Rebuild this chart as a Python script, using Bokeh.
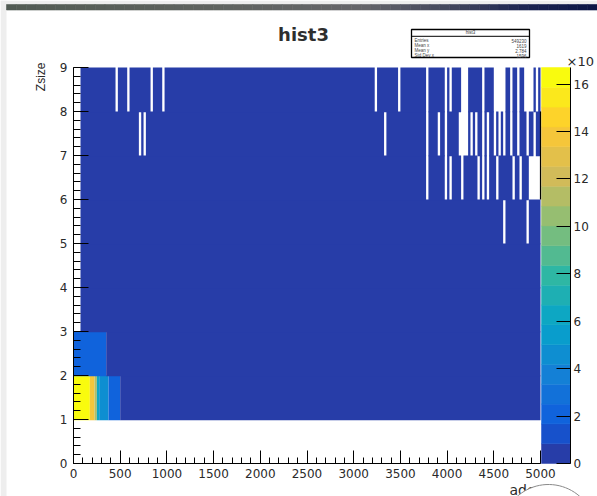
import math
import numpy as np
from bokeh.plotting import figure
from bokeh.models import (Range1d, LinearAxis, SingleIntervalTicker, FixedTicker,
                          ColumnDataSource)
from bokeh.core.properties import value
from bokeh.embed import file_html
from bokeh.resources import INLINE

# ---------------- histogram "hist3": adc vs Zsize ----------------
ADC_LO, ADC_HI, ADC_BIN = 0, 5000, 25
ZSIZE_LO, ZSIZE_HI = 0, 9

# counts of the first adc bins (0, 25, 50, ...) in the Zsize = 1 row
zsize1_head = [16700, 16600, 16650, 16600, 16500, 16400, 16100, 14100, 13900, 11000,
               6300, 4700, 4600, 4500, 4400, 2300, 2200, 2150, 2100, 2000]
# counts of the first adc bins in the Zsize = 2 row
zsize2_head = [2450, 2400, 2400, 2350, 2350, 2300, 2300, 2250, 2200, 2200,
               2100, 2050, 2000, 1950]

# occupied Zsize rows and the typical count of their remaining bins
zsize_rows = [1, 2, 3, 4, 5, 6, 7, 8]
row_counts = [520, 380, 260, 190, 140, 110, 90, 70]

# lower adc edges of the empty bins in each row
empty_z1 = []
empty_z2 = []
empty_z3 = [0, 25, 50]
empty_z4 = [0, 25, 50]
empty_z5 = [0, 25, 50, 4600, 4850]
empty_z6 = [0, 25, 50, 3775, 3975, 4025, 4150, 4325, 4375, 4425, 4525, 4700, 4775,
            4875, 4900, 4925, 4950, 4975]
empty_z7 = [0, 25, 50, 700, 750, 3325, 3775, 3900, 3975, 4125, 4150, 4175, 4200,
            4250, 4300, 4375, 4425, 4500, 4550, 4600, 4675, 4750, 4850, 4925]
empty_z8 = [0, 25, 50, 450, 575, 825, 950, 3225, 3475, 3775, 3975, 4025, 4150, 4175,
            4200, 4375, 4500, 4525, 4550, 4575, 4600, 4675, 4750, 4825, 4850, 4875,
            4900, 4950]
empty_bins = [empty_z1, empty_z2, empty_z3, empty_z4, empty_z5, empty_z6, empty_z7, empty_z8]

# colour-bar labelling (thousands)
z_ticks = [0, 2000, 4000, 6000, 8000, 10000, 12000, 14000, 16000]

# ---------------- fill the 2D array ----------------
n_adc = (ADC_HI - ADC_LO) // ADC_BIN
counts = np.zeros((ZSIZE_HI - ZSIZE_LO, n_adc))
for row, base, empties in zip(zsize_rows, row_counts, empty_bins):
    counts[row, :] = base
    if row == 1:
        counts[row, :len(zsize1_head)] = zsize1_head
    if row == 2:
        counts[row, :len(zsize2_head)] = zsize2_head
    for e in empties:
        counts[row, (e - ADC_LO) // ADC_BIN] = 0

# ---------------- ROOT kBird palette, 20 contour levels ----------------
BIRD_STOPS = [0.0000, 0.1250, 0.2500, 0.3750, 0.5000, 0.6250, 0.7500, 0.8750, 1.0000]
BIRD_R = [0.2082, 0.0592, 0.0780, 0.0232, 0.1802, 0.5301, 0.8186, 0.9956, 0.9764]
BIRD_G = [0.1664, 0.3599, 0.5041, 0.6419, 0.7178, 0.7492, 0.7328, 0.7862, 0.9832]
BIRD_B = [0.5293, 0.8684, 0.8385, 0.7914, 0.6425, 0.4662, 0.3499, 0.1968, 0.0539]
N_CONT = 20


def bird(pos):
    r = np.interp(pos, BIRD_STOPS, BIRD_R)
    g = np.interp(pos, BIRD_STOPS, BIRD_G)
    b = np.interp(pos, BIRD_STOPS, BIRD_B)
    return "#%02x%02x%02x" % (int(round(r * 255)), int(round(g * 255)), int(round(b * 255)))


palette = []
for i in range(N_CONT):
    idx = min(int((i + 0.99) * 255 / N_CONT), 254)
    palette.append(bird(idx / 254.0))

zmax = counts.max()
z_edges = np.linspace(0, zmax, N_CONT + 1)
levels = np.minimum((counts * N_CONT / zmax).astype(int), N_CONT - 1)

# ---------------- canvas geometry (pixels) ----------------
W, H = 597, 496
PAD_L, PAD_R, PAD_T, PAD_B = 73, 540, 67, 463   # where the histogram frame lands
BAR_L, BAR_R = 541, 570                          # colour scale

sx = (ADC_HI - ADC_LO) / (PAD_R - PAD_L)
sy = (ZSIZE_HI - ZSIZE_LO) / (PAD_B - PAD_T)
ROW_OVERLAP = 0.7 * sy   # rows overlap by a fraction of a pixel: no hairline seams


def ax(px):
    return ADC_LO + (px - PAD_L) * sx


def ay(py):
    return ZSIZE_LO + (PAD_B - py) * sy


# merge neighbouring bins of equal colour into one rectangle per run
cells = dict(left=[], right=[], bottom=[], top=[], color=[])
for row in range(ZSIZE_HI - ZSIZE_LO):
    j = 0
    while j < n_adc:
        if counts[row, j] <= 0:
            j += 1
            continue
        k = j
        while k + 1 < n_adc and counts[row, k + 1] > 0 and levels[row, k + 1] == levels[row, j]:
            k += 1
        cells["left"].append(ADC_LO + j * ADC_BIN)
        cells["right"].append(ADC_LO + (k + 1) * ADC_BIN)
        cells["bottom"].append(ZSIZE_LO + row - ROW_OVERLAP)
        cells["top"].append(ZSIZE_LO + row + 1)
        cells["color"].append(palette[levels[row, j]])
        j = k + 1

zs = zmax / (PAD_B - PAD_T)

p = figure(width=W, height=H, x_range=Range1d(ax(0), ax(W)), y_range=Range1d(ay(H), ay(0)),
           output_backend="svg", toolbar_location=None,
           min_border=0, min_border_left=0, min_border_right=0,
           min_border_top=0, min_border_bottom=0,
           background_fill_color="white", border_fill_color="white",
           outline_line_color=None)
p.grid.visible = False
p.extra_y_ranges = {"z": Range1d(-(H - PAD_B) * zs, zmax + PAD_T * zs)}

# page background: light strips on the left and top, dark header bar
p.quad(left=[ax(0)], right=[ax(6)], bottom=[ay(H)], top=[ay(0)],
       fill_color="#eeeeee", line_color=None)
p.quad(left=[ax(0)], right=[ax(W)], bottom=[ay(4)], top=[ay(0)],
       fill_color="#eeeeee", line_color=None)
bar_stops = [0.0, 0.35, 0.6, 0.75, 0.88, 1.0]
bar_cols = [(0x52, 0x5c, 0x54), (0x60, 0x64, 0x60), (0x66, 0x66, 0x6a),
            (0x44, 0x48, 0x5e), (0x1c, 0x24, 0x52), (0x0b, 0x15, 0x46)]
n_seg = 60
seg_l, seg_r, seg_c = [], [], []
for s in range(n_seg):
    f = (s + 0.5) / n_seg
    rgb = [int(np.interp(f, bar_stops, [c[k] for c in bar_cols])) for k in range(3)]
    seg_l.append(ax(6 + (W - 6) * s / n_seg))
    seg_r.append(ax(6 + (W - 6) * (s + 1) / n_seg))
    seg_c.append("#%02x%02x%02x" % tuple(rgb))
p.quad(left=seg_l, right=seg_r, bottom=[ay(9.5)] * n_seg, top=[ay(4)] * n_seg,
       fill_color=seg_c, line_color=seg_c, line_width=0.6)

# heat map
p.quad(left="left", right="right", bottom="bottom", top="top", fill_color="color",
       line_color=None, source=ColumnDataSource(cells))

# colour scale
p.quad(left=[ax(BAR_L)] * N_CONT, right=[ax(BAR_R)] * N_CONT,
       bottom=list(z_edges[:-1]), top=list(z_edges[1:]),
       fill_color=palette, line_color=palette, line_width=0.5, y_range_name="z")

# piece of the frame edge at adc = 5000
p.segment(x0=[ADC_HI], y0=[6], x1=[ADC_HI], y1=[8], line_color="black", line_width=1.2)

TICK_FONT = "DejaVu Sans"
TXT = "#2a2a2a"

xa = p.xaxis[0]
xa.fixed_location = ZSIZE_LO
xa.ticker = SingleIntervalTicker(interval=500, num_minor_ticks=5)
xa.bounds = (ADC_LO, ADC_HI)
xa.major_tick_in, xa.major_tick_out = 13, 0
xa.minor_tick_in, xa.minor_tick_out = 6, 0
xa.major_label_standoff = 5
xa.major_label_text_font = TICK_FONT
xa.major_label_text_font_size = "12px"
xa.major_label_text_color = TXT
xa.axis_line_color = "black"

ya = p.yaxis[0]
ya.fixed_location = ADC_LO
ya.ticker = SingleIntervalTicker(interval=1, num_minor_ticks=5)
ya.bounds = (ZSIZE_LO, ZSIZE_HI)
ya.major_tick_in, ya.major_tick_out = 15, 0
ya.minor_tick_in, ya.minor_tick_out = 7, 0
ya.major_label_standoff = 6
ya.major_label_text_font = TICK_FONT
ya.major_label_text_font_size = "12px"
ya.major_label_text_color = TXT
ya.axis_line_color = "black"

za = LinearAxis(y_range_name="z", ticker=FixedTicker(ticks=z_ticks, minor_ticks=[]),
                fixed_location=ax(BAR_R), bounds=(0, zmax),
                major_label_overrides={t: str(t // 1000) for t in z_ticks},
                major_tick_in=14, major_tick_out=0, minor_tick_in=0, minor_tick_out=0,
                major_label_standoff=3, major_label_text_font=TICK_FONT,
                major_label_text_font_size="12px", major_label_text_color=TXT,
                axis_line_color="black")
p.add_layout(za, "right")

# title and axis titles
p.text(x=[ax(303)], y=[ay(34)], text=["hist3"], text_align="center",
       text_baseline="middle", text_font=value("DejaVu Sans"),
       text_font_style="bold", text_font_size="18px", text_color="#2e2e2e")
p.text(x=[ax(40)], y=[ay(62)], text=["Zsize"], angle=math.pi / 2,
       text_align="right", text_baseline="middle",
       text_font=value("Liberation Sans"), text_font_size="12px", text_color=TXT)
p.text(x=[ax(509)], y=[ay(489)], text=["adc"], text_align="left",
       text_baseline="middle", text_font=value("DejaVu Sans"),
       text_font_size="14px", text_color=TXT)
p.text(x=[ax(566)], y=[ay(61)], text=["\u00d710"], text_align="left",
       text_baseline="middle", text_font=value("DejaVu Sans"),
       text_font_size="13px", text_color=TXT)

# round overlay in the lower right corner
cx, cy, rad = 548, 531, 47
ang = np.linspace(0, 2 * np.pi, 90)
p.patch(x=[ax(cx + rad * math.cos(a)) for a in ang],
        y=[ay(cy + rad * math.sin(a)) for a in ang],
        fill_color="white", line_color="#8a8a8a", line_width=1)

# statistics box
xc = ADC_LO + (np.arange(n_adc) + 0.5) * ADC_BIN
yc = np.arange(ZSIZE_LO, ZSIZE_HI) + 0.5
tot = counts.sum()
proj_x = counts.sum(axis=0)
proj_y = counts.sum(axis=1)
mean_x = (proj_x * xc).sum() / tot
mean_y = (proj_y * yc).sum() / tot
std_x = math.sqrt((proj_x * (xc - mean_x) ** 2).sum() / tot)
stat_names = ["Entries", "Mean x", "Mean y", "Std Dev x"]
stat_values = ["%d" % int(tot), "%.4g" % mean_x, "%.4g" % mean_y, "%.4g" % std_x]

SB_L, SB_R, SB_T, SB_B = 411, 529, 29, 57
p.quad(left=[ax(SB_L)], right=[ax(SB_R)], top=[ay(SB_T)], bottom=[ay(SB_B)],
       fill_color="white", line_color="black", line_width=1.3)
p.segment(x0=[ax(SB_L)], x1=[ax(SB_R)], y0=[ay(35.8)], y1=[ay(35.8)],
          line_color="black", line_width=1)
p.text(x=[ax((SB_L + SB_R) / 2)], y=[ay(32.3)], text=["hist3"], text_align="center",
       text_baseline="middle", text_font=value("Liberation Sans"),
       text_font_size="4.5px", text_color="#333333")
row_y = [ay(40 + 5 * i) for i in range(len(stat_names))]
p.text(x=[ax(SB_L + 3)] * len(stat_names), y=row_y, text=stat_names, text_align="left",
       text_baseline="middle", text_font=value("Liberation Sans"),
       text_font_size="4.5px", text_color="#444444")
p.text(x=[ax(SB_R - 3)] * len(stat_values), y=row_y, text=stat_values, text_align="right",
       text_baseline="middle", text_font=value("Liberation Sans"),
       text_font_size="4.5px", text_color="#444444")

open("out.html", "w").write(file_html(p, INLINE))
